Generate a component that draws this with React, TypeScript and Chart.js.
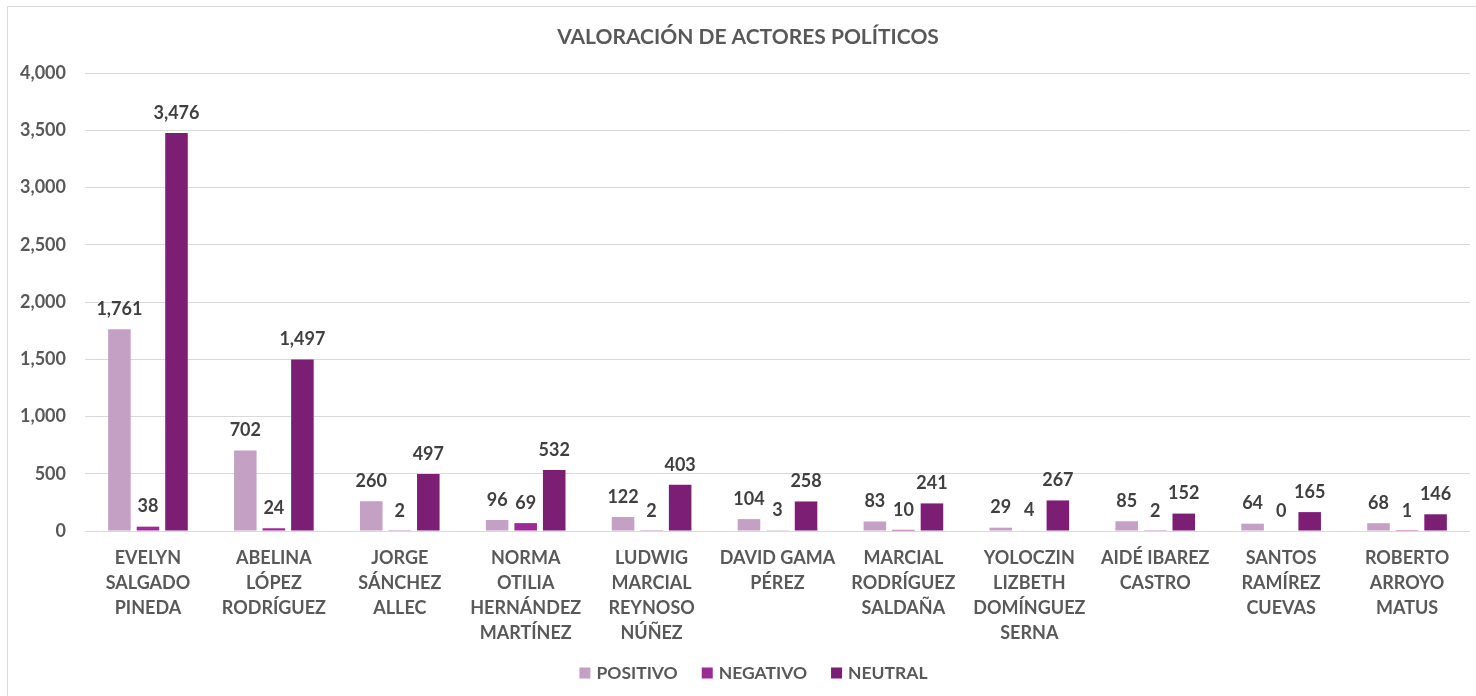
import React, { useEffect, useRef } from "react";
import { Chart, registerables } from "chart.js";

Chart.register(...registerables);

const categories: string[][] = [
  ["EVELYN", "SALGADO", "PINEDA"],
  ["ABELINA", "LÓPEZ", "RODRÍGUEZ"],
  ["JORGE", "SÁNCHEZ", "ALLEC"],
  ["NORMA", "OTILIA", "HERNÁNDEZ", "MARTÍNEZ"],
  ["LUDWIG", "MARCIAL", "REYNOSO", "NÚÑEZ"],
  ["DAVID GAMA", "PÉREZ"],
  ["MARCIAL", "RODRÍGUEZ", "SALDAÑA"],
  ["YOLOCZIN", "LIZBETH", "DOMÍNGUEZ", "SERNA"],
  ["AIDÉ IBAREZ", "CASTRO"],
  ["SANTOS", "RAMÍREZ", "CUEVAS"],
  ["ROBERTO", "ARROYO", "MATUS"],
];

const positivo: number[] = [1761, 702, 260, 96, 122, 104, 83, 29, 85, 64, 68];
const negativo: number[] = [38, 24, 2, 69, 2, 3, 10, 4, 2, 0, 1];
const neutral: number[] = [3476, 1497, 497, 532, 403, 258, 241, 267, 152, 165, 146];

const seriesNames: string[] = ["POSITIVO", "NEGATIVO", "NEUTRAL"];
const seriesColors: string[] = ["#C4A0C4", "#9C2A98", "#7B1E74"];
const titleText = "VALORACIÓN DE ACTORES POLÍTICOS";

const FONT = "Lato, 'Open Sans', sans-serif";
const TEXT = "#595959";

const dataLabelPlugin = {
  id: "dataLabels",
  afterDatasetsDraw(chart: any) {
    const ctx = chart.ctx;
    ctx.save();
    ctx.font = `bold 18px ${FONT}`;
    ctx.fillStyle = "#404040";
    ctx.textAlign = "center";
    ctx.textBaseline = "middle";
    chart.data.datasets.forEach((ds: any, i: number) => {
      const meta = chart.getDatasetMeta(i);
      meta.data.forEach((bar: any, j: number) => {
        const v = ds.data[j] as number;
        ctx.fillText(v.toLocaleString("en-US"), bar.x, bar.y - 20);
      });
    });
    ctx.restore();
  },
};

const frameTitleLegendPlugin = {
  id: "frameTitleLegend",
  beforeDraw(chart: any) {
    const ctx = chart.ctx;
    ctx.save();
    ctx.fillStyle = "#ffffff";
    ctx.fillRect(0, 0, chart.width, chart.height);
    ctx.strokeStyle = "#d9d9d9";
    ctx.lineWidth = 1;
    ctx.beginPath();
    ctx.moveTo(7.5, chart.height);
    ctx.lineTo(7.5, 6.5);
    ctx.lineTo(chart.width, 6.5);
    ctx.stroke();
    ctx.restore();
  },
  afterDraw(chart: any) {
    const ctx = chart.ctx;
    ctx.save();
    // title
    ctx.font = `bold 21px ${FONT}`;
    ctx.fillStyle = TEXT;
    ctx.textAlign = "center";
    ctx.textBaseline = "middle";
    ctx.fillText(titleText, 748, 37);
    // legend
    ctx.font = `bold 17.5px ${FONT}`;
    ctx.textAlign = "left";
    const box = 11;
    const gapBoxText = 6;
    const gapItems = 24;
    const widths = chart.data.datasets.map((ds: any) => ctx.measureText(ds.label).width);
    const total =
      widths.reduce((a: number, b: number) => a + b, 0) +
      widths.length * (box + gapBoxText) +
      (widths.length - 1) * gapItems;
    let x = 753.5 - total / 2;
    const cy = 673;
    chart.data.datasets.forEach((ds: any, i: number) => {
      ctx.fillStyle = ds.backgroundColor;
      ctx.fillRect(x, cy - box / 2, box, box);
      x += box + gapBoxText;
      ctx.fillStyle = TEXT;
      ctx.fillText(ds.label, x, cy);
      x += widths[i] + gapItems;
    });
    ctx.restore();
  },
};

export default function App() {
  const canvasRef = useRef<HTMLCanvasElement | null>(null);

  useEffect(() => {
    document.body.style.margin = "0";
    const canvas = canvasRef.current;
    if (!canvas) return;
    const chart = new Chart(canvas, {
      type: "bar",
      data: {
        labels: categories,
        datasets: seriesNames.map((name, i) => ({
          label: name,
          data: [positivo, negativo, neutral][i],
          backgroundColor: seriesColors[i],
        })),
      },
      options: {
        animation: false,
        responsive: false,
        maintainAspectRatio: false,
        datasets: {
          bar: { barPercentage: 0.79, categoryPercentage: 0.68 },
        },
        layout: { padding: { top: 73, left: 0, right: 6, bottom: 0 } },
        plugins: {
          title: { display: false },
          legend: { display: false },
          tooltip: { enabled: false },
        },
        scales: {
          x: {
            grid: { display: false, drawTicks: false },
            border: { display: false },
            ticks: {
              color: TEXT,
              font: { family: FONT, size: 18, weight: "bold", lineHeight: 25 / 18 },
              padding: 15,
              maxRotation: 0,
              autoSkip: false,
            },
            afterFit(scale: any) {
              scale.height = 165;
            },
          },
          y: {
            min: 0,
            max: 4000,
            grid: { color: "#d9d9d9", lineWidth: 1, drawTicks: false },
            border: { display: false },
            ticks: {
              stepSize: 500,
              color: TEXT,
              padding: 19,
              font: { family: FONT, size: 18, weight: "bold" },
              callback: (v: any) => Number(v).toLocaleString("en-US"),
            },
            afterFit(scale: any) {
              scale.width = 85;
            },
          },
        },
      },
      plugins: [frameTitleLegendPlugin, dataLabelPlugin],
    });
    return () => chart.destroy();
  }, []);

  return (
    <div style={{ width: 1476, height: 696 }}>
      <canvas ref={canvasRef} width={1476} height={696} style={{ display: "block" }} />
    </div>
  );
}
